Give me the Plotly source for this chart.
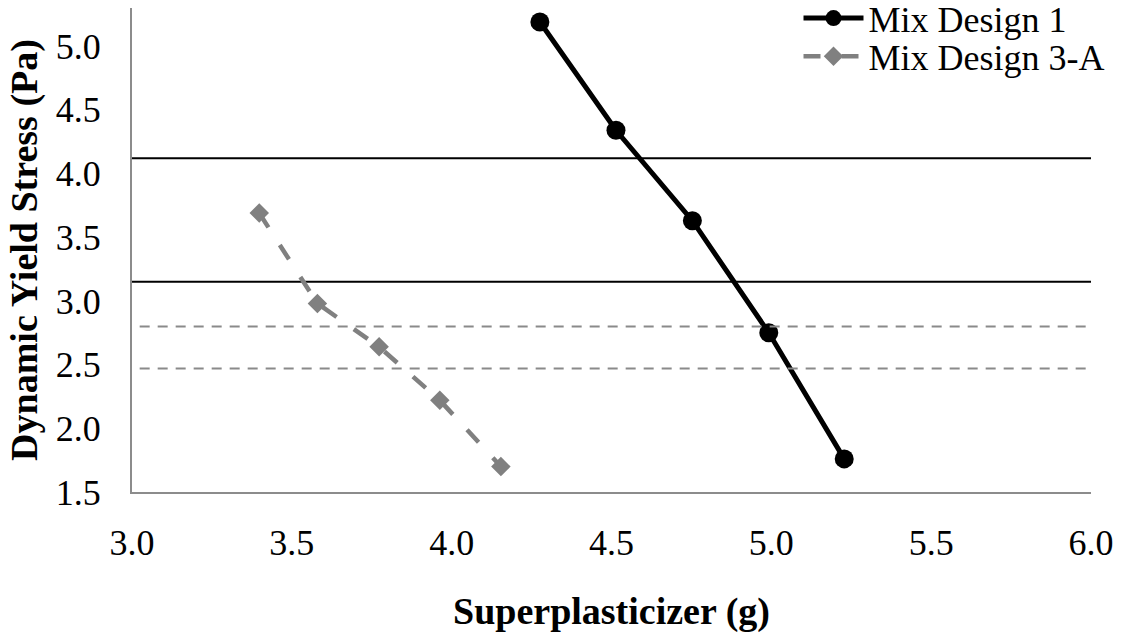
import plotly.graph_objects as go

# Data
mix1_x = [4.276, 4.514, 4.753, 4.992, 5.228]
mix1_y = [5.19, 4.34, 3.63, 2.75, 1.76]

mix3a_x = [3.398, 3.580, 3.773, 3.963, 4.154]
mix3a_y = [3.69, 2.98, 2.64, 2.22, 1.70]

solid_limits = [4.12, 3.15]
dashed_limits = [2.80, 2.47]

x_ticks = [3.0, 3.5, 4.0, 4.5, 5.0, 5.5, 6.0]
y_ticks = [1.5, 2.0, 2.5, 3.0, 3.5, 4.0, 4.5, 5.0]

FONT = "Times New Roman, Liberation Serif, serif"

fig = go.Figure()

fig.add_trace(go.Scatter(
    x=mix1_x, y=mix1_y, name="Mix Design 1", mode="lines+markers",
    line=dict(color="#000000", width=5),
    marker=dict(symbol="circle", size=19, color="#000000"),
    legend="legend",
))
fig.add_trace(go.Scatter(
    x=mix3a_x, y=mix3a_y, name="Mix Design 3-A", mode="lines+markers",
    line=dict(color="#808080", width=4.5, dash="17px,21px"),
    marker=dict(symbol="diamond", size=15, color="#808080"),
    legend="legend2",
))

for v in solid_limits:
    fig.add_shape(type="line", xref="paper", x0=0, x1=1, yref="y", y0=v, y1=v,
                  line=dict(color="#000000", width=2), layer="below")
for v in dashed_limits:
    fig.add_shape(type="line", xref="paper", x0=0.008, x1=1, yref="y", y0=v, y1=v,
                  line=dict(color="#8a8a8a", width=2, dash="10px,8px"), layer="above")

legend_common = dict(
    xanchor="left", yanchor="top",
    bgcolor="rgba(0,0,0,0)", font=dict(family=FONT, size=36, color="#000000"),
    itemwidth=60,
)

fig.update_layout(
    width=1123, height=633,
    margin=dict(l=132, r=32, t=8, b=141, autoexpand=False),
    paper_bgcolor="white", plot_bgcolor="white",
    font=dict(family=FONT, size=36, color="#000000"),
    showlegend=True,
    legend=dict(x=0.695, y=1.041, **legend_common),
    legend2=dict(x=0.695, y=0.962, **legend_common),
    xaxis=dict(
        range=[3.0, 6.0], tickvals=x_ticks, ticktext=[f"{v:.1f}" for v in x_ticks],
        showgrid=False, zeroline=False, showline=True, linecolor="#8c8c8c", linewidth=2,
        ticks="", ticklabelstandoff=18,
        tickfont=dict(family=FONT, size=36, color="#000000"),
        title=dict(text="<b>Superplasticizer (g)</b>", font=dict(family=FONT, size=38), standoff=38),
    ),
    yaxis=dict(
        range=[1.5, 5.3], tickvals=y_ticks, ticktext=[f"{v:.1f}" for v in y_ticks],
        showgrid=False, zeroline=False, showline=True, linecolor="#8c8c8c", linewidth=2,
        ticks="", ticklabelstandoff=22,
        tickfont=dict(family=FONT, size=36, color="#000000"),
        title=dict(text="<b>Dynamic Yield Stress (Pa)</b>", font=dict(family=FONT, size=38), standoff=6),
    ),
)

fig.write_html("out.html")
